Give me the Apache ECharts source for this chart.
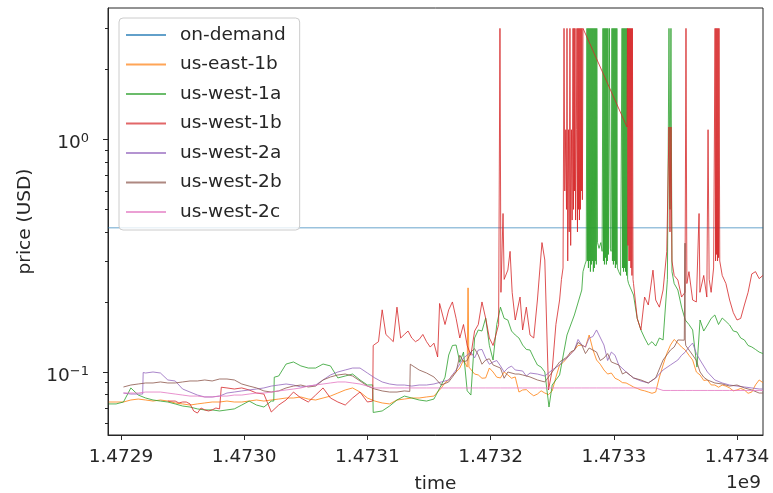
<!DOCTYPE html>
<html><head><meta charset="utf-8">
<script src="https://cdn.jsdelivr.net/npm/echarts@6/dist/echarts.min.js"></script>
<style>html,body{margin:0;padding:0;background:#fff}#c{width:773px;height:493px}</style>
</head><body><div id="c"></div>
<script>
// time base (epoch seconds) and sample times as kilo-second offsets from it
const T0 = 1472900000;
const X_MIN_KS = -10.55, X_MAX_KS = 521.1;
const timeKs = [-10,-4,2,8,14,20,26,32,38,44,50,56,62,68,74,80,86,92,98,104,110,116,122,128,134,140,146,152,158,164,170,176,182,188,194,200,206,212,218,224,230,236,242,248,254,260,266,272,278,284,290,296,302,308,314,320,326,332,338,344,350,356,362,368,374,380,386,392,398,404,410,416,422,428,434,440,446,452,458,464,470,476,482,488,494,500,506,512,518,521];

const seriesNames = ['on-demand','us-east-1b','us-west-1a','us-west-1b','us-west-2a','us-west-2b','us-west-2c'];
const onDemandPrice = 0.417;

const usEast1b = [0.0743,0.0743,0.0743,0.0758,0.0765,0.0758,0.0750,0.0758,0.0750,0.0736,
0.0729,0.0721,0.0729,0.0736,0.0743,0.0743,0.0750,0.0743,0.0743,0.0750,
0.0758,0.0750,0.0758,0.0765,0.0773,0.0773,0.0781,0.0765,0.0758,0.0773,
0.0788,0.0812,0.0837,0.0854,0.0820,0.0773,0.0750,0.0736,0.0729,0.0758,
0.0765,0.0773,0.0773,0.0781,0.0788,0.0854,0.0924,0.1000,0.1126,0.1040,
0.0971,0.0943,0.1000,0.0943,0.0971,0.0952,0.0837,0.0812,0.0804,0.0812,
0.0829,0.1072,0.1148,0.1243,0.1306,0.1442,0.1126,0.1020,0.0990,0.0924,
0.0897,0.0862,0.0837,0.0820,0.0820,0.1072,0.1306,0.1332,0.1243,0.1126,
0.0971,0.0924,0.0879,0.0879,0.0854,0.0837,0.0837,0.0820,0.0924,0.0900];
const usEast1bExtra = [[281.0,0.105],[281.7,0.230],[282.4,0.105],
[263,0.090],[269,0.097],[275,0.104],[287,0.098],[293,0.094],[299,0.104],[305,0.095],[311,0.100],[317,0.094],
[323,0.082],[329,0.084],[335,0.079],[341,0.083],[347,0.080],[353,0.095],[359,0.110],[365,0.120],[371,0.130],
[377,0.128],[383,0.125],[389,0.108],[395,0.098],[401,0.094],[407,0.090],[413,0.088],[419,0.085],[425,0.083],
[431,0.081],[437,0.095],[443,0.120],[449,0.138],[455,0.128],[461,0.118],[467,0.100],[473,0.092],[479,0.088],
[485,0.086],[491,0.087],[497,0.083],[503,0.085],[509,0.081],[515,0.088]];

const usWest1a = [0.0729,0.0729,0.0743,0.0854,0.0796,0.0773,0.0758,0.0750,0.0743,0.0729,
0.0714,0.0707,0.0694,0.0687,0.0687,0.0680,0.0687,0.0694,0.0721,0.0750,
0.0721,0.0707,0.0750,0.0961,0.1082,0.1104,0.1062,0.1040,0.1040,0.1082,
0.1062,0.0943,0.0961,0.0980,0.0924,0.0879,0.0673,0.0680,0.0714,0.0758,
0.0788,0.0773,0.0758,0.0750,0.0765,0.0879,0.1183,0.1306,0.1218,0.0796,
0.1516,0.1706,0.1126,0.1900,0.1673,0.1442,0.1306,0.1243,0.1072,0.1000,
0.0879,0.0971,0.1442,0.1758,0.2251,null,null,null,null,null,
null,0.2142,0.1516,0.1306,0.1293,0.1373,null,0.2251,0.1673,0.1516,
0.1673,0.1592,0.1758,0.1706,0.1592,0.1486,0.1373,0.1281,0.1218,0.1200];
const usWest1aExtra = [[124.0,0.0750],[124.4,0.0950],[204.3,0.0880],[204.7,0.0670],[347.4,0.0707],
[263,0.095],[269,0.130],[275,0.110],[281,0.083],[287,0.140],[293,0.150],[299,0.130],[305,0.160],[311,0.170],
[317,0.150],[323,0.140],[329,0.125],[335,0.115],[341,0.105],
[375.0,0.27],[376.6,0.29],[377.6,0.30],
[378.2,3.0],[378.6,0.30],[379.0,3.0],[379.4,0.28],[379.8,3.0],[380.2,0.30],[380.6,3.0],[381.0,0.27],[381.4,3.0],[381.8,0.29],
[382.2,3.0],[382.6,0.30],[383.0,3.0],[383.4,0.27],[383.8,3.0],[384.2,0.28],[384.6,3.0],[385.0,0.30],[385.4,3.0],[385.8,0.29],[386.2,3.0],[386.8,0.36],
[388.0,0.34],[389.5,0.36],[390.5,0.33],
[391.2,3.0],[391.6,0.30],[392.0,3.0],[392.4,0.29],[392.8,3.0],[393.2,0.31],[393.6,3.0],[394.0,0.29],[394.4,3.0],[394.8,0.30],[395.2,3.0],[395.6,0.32],
[396.4,3.0],[397.2,0.34],[397.8,0.33],
[398.5,3.0],[398.9,0.30],[399.3,3.0],[399.7,0.29],[400.1,3.0],[400.5,0.30],[400.9,3.0],[401.3,0.28],[401.7,3.0],[402.1,0.29],[402.5,3.0],[402.9,0.28],
[404.0,0.27],[405.5,0.26],
[406.7,3.0],[407.1,0.28],[407.5,3.0],[407.9,0.27],[408.3,3.0],[408.7,0.28],[409.1,3.0],[409.5,0.27],[409.9,3.0],[410.3,0.26],[410.7,3.0],[411.2,0.25],
[412.0,0.24],[413.5,0.23],
[419,0.170],[425,0.140],[431,0.135],[437,0.140],
[443.5,0.25],[444.8,3.0],[445.6,0.50],[446.4,3.0],[447.2,0.27],
[449,0.240],[455,0.190],[461,0.160],[467.5,0.105],[473,0.150],[479,0.170],[485,0.160],[491,0.165],[497,0.150],
[503,0.140],[509,0.130],[515,0.125]];

const usWest1b = [null,null,null,null,null,null,null,null,0.0750,0.0750,
0.0743,0.0729,0.0666,0.0687,0.0687,0.0694,0.0854,0.0845,0.0854,0.0837,
0.0812,0.0804,0.0673,0.0721,0.0758,0.0820,0.0773,0.0743,0.0796,0.0854,
0.0773,0.0743,0.0721,0.0773,0.0820,0.0743,0.1280,0.1850,0.1400,0.1900,
0.1450,0.1400,0.1380,0.1350,0.1330,0.1950,0.1850,0.1700,0.1600,0.1180,
0.1600,0.1700,0.1300,null,0.2743,0.1673,0.1516,0.1442,0.2039,0.3029,
0.1020,0.2039,null,null,null,null,null,null,null,null,
null,0.2400,0.1516,0.1941,0.2039,0.2251,null,0.2485,null,0.2039,
null,null,null,0.2600,0.2039,0.1673,0.1941,0.2640,0.2519,0.2600];
const usWest1bExtra = [[47,0.0736],[53,0.0743],[59,0.0680],[65,0.0700],[71,0.0680],[77,0.0700],
[81.0,0.0690],[81.4,0.0860],[204.3,0.0750],[204.7,0.1300],
[209,0.135],[215,0.145],[221,0.135],[227,0.140],[233,0.150],[239,0.135],[245,0.145],[251,0.128],
[257.0,0.1160],[258.6,0.1970],
[263,0.160],[269,0.200],[275,0.140],[281,0.130],[287,0.150],[293,0.200],[299,0.140],
[306.5,0.1600],[307.6,3.0],[308.4,0.2200],[310.1,0.4800],[311.0,0.2500],
[315.8,0.3300],[317.5,0.220],[323.9,0.2100],[329,0.190],[335,0.140],[341.7,0.3600],[347.0,0.0837],[353,0.160],
[357.5,0.25],[358.8,0.28],[359.6,3.0],[360.2,0.6],[361.0,1.1],[361.6,0.5],[362.0,3.0],[362.6,0.30],[363.2,1.1],[363.8,0.4],
[364.4,3.0],[365.0,0.35],[365.6,1.1],[366.2,0.45],[366.9,3.0],[367.3,0.5],[367.7,3.0],[368.1,0.6],[368.5,3.0],[369.0,0.45],
[369.6,1.1],[370.1,3.0],[370.5,0.4],[370.9,3.0],[371.3,0.5],[371.7,3.0],[372.1,0.45],[372.5,3.0],[372.9,0.5],[373.3,3.0],
[373.7,0.6],[374.1,3.0],[374.5,0.55],[375.0,3.0],
[410.7,1.13],[411.1,3.0],[411.5,0.35],[411.9,3.0],[412.3,0.30],[412.7,3.0],[413.1,0.30],[413.5,3.0],[413.9,0.28],[414.3,3.0],
[414.7,0.26],[415.1,3.0],[415.6,0.25],
[419,0.170],[425,0.210],[431.8,0.274],[437,0.190],
[443.0,0.33],[444.8,1.13],[445.6,0.40],[446.4,1.13],[447.2,0.30],
[449,0.260],[455,0.210],[457.8,0.22],[458.6,3.0],[459.3,0.24],[461,0.270],[467,0.200],
[469.2,0.48],[469.9,0.22],[473,0.260],
[475.5,0.21],[476.5,1.10],[477.4,0.25],[479,0.220],
[481.0,0.28],[482.2,3.0],[482.6,0.30],[483.0,3.0],[483.4,0.32],[483.8,3.0],[484.2,0.30],[484.6,3.0],[485.0,0.31],[485.4,3.0],[486.0,0.30],
[491,0.240],[497,0.180],[503,0.170],[509,0.220],[515,0.270]];

const usWest2a = [null,null,0.0812,0.0804,0.0804,0.0990,0.1000,0.0990,0.0924,0.0915,
0.0845,0.0820,0.0796,0.0781,0.0781,0.0788,0.0812,0.0820,0.0829,0.0837,
0.0845,0.0854,0.0870,0.0879,0.0888,0.0879,0.0862,0.0870,0.0879,0.0924,
0.0971,0.1000,0.1020,0.1040,0.1040,0.0990,0.0943,0.0906,0.0888,0.0879,
0.0879,0.0870,0.0879,0.0879,0.0888,0.0906,0.0924,0.1020,0.1148,0.1218,
0.1243,0.1148,0.1104,0.1062,0.1040,0.1020,0.1010,0.0990,0.0980,0.0961,
0.1020,0.1072,0.1148,0.1243,0.1306,0.1400,0.1516,0.1306,0.1218,0.1072,
0.1000,0.0943,0.0915,0.0897,0.0943,0.1020,0.1072,0.1126,0.1218,0.1332,
0.1126,0.1000,0.0924,0.0897,0.0879,0.0870,0.0862,0.0854,0.0845,0.0845];
const usWest2aExtra = [[17.6,0.0804],[18.0,0.0995],
[287,0.115],[293,0.125],[299,0.108],[305,0.112],[311,0.100],[317,0.106],[329,0.096],[359,0.112],[371,0.138],[377,0.128],
[383,0.142],[395,0.112],[401,0.118],[455,0.118],[461,0.128],[467,0.120]];

const usWest2b = [null,null,0.0862,0.0879,0.0888,0.0897,0.0897,0.0906,0.0897,0.0897,
0.0906,0.0915,0.0915,0.0924,0.0915,0.0933,0.0933,0.0924,0.0888,0.0870,
0.0854,0.0829,0.0820,0.0829,0.0854,0.0870,0.0879,0.0862,0.0870,0.0924,
0.0952,0.0971,0.0980,0.0961,0.0915,0.0870,0.0845,0.0829,0.0820,0.0820,
0.0829,0.1062,0.1020,0.0990,0.0952,0.0879,0.0906,0.1000,0.1104,0.1218,
0.1183,0.1126,0.1072,0.1040,0.1000,0.0980,0.0971,0.0952,0.0924,0.0906,
0.1000,0.1104,0.1160,0.1243,0.1306,0.1268,0.1218,0.1148,0.1104,0.1072,
0.1000,0.0943,0.0924,0.0897,0.0943,0.1126,0.1243,0.1373,0.1373,0.1183,
0.1000,0.0924,0.0897,0.0888,0.0870,0.0879,0.0854,0.0837,0.0812,0.0812];
const usWest2bExtra = [[234.4,0.0825],[234.8,0.1080],[457.2,0.1370],[457.8,0.3580],[458.4,0.1300],
[275,0.118],[281,0.112],[287,0.126],[293,0.108],[299,0.114],[311,0.094],[323,0.098],[365,0.122],[371,0.134],
[377,0.120],[389,0.112],[395,0.120],[407,0.098],[449,0.128],[467,0.112],[473,0.095]];

const usWest2c = [null,null,0.0812,0.0812,0.0812,0.0820,0.0820,0.0820,0.0812,0.0804,
0.0796,0.0788,0.0788,0.0781,0.0781,0.0788,0.0788,0.0796,0.0796,0.0804,
0.0812,0.0812,0.0820,0.0829,0.0837,0.0845,0.0854,0.0870,0.0879,0.0888,
0.0897,0.0906,0.0906,0.0897,0.0888,0.0870,0.0854,0.0854,0.0854,0.0854,
0.0854,0.0854,0.0854,0.0854,0.0854,0.0854,0.0854,0.0854,0.0854,0.0854,
0.0854,0.0854,0.0854,0.0854,0.0854,0.0854,0.0854,0.0854,0.0854,0.0854,
0.0854,0.0854,0.0854,0.0854,0.0854,0.0854,0.0854,0.0854,0.0854,0.0854,
0.0854,0.0854,0.0854,0.0854,0.0854,0.0833,0.0833,0.0833,0.0833,0.0833,
0.0833,0.0833,0.0833,0.0833,0.0833,0.0833,0.0833,0.0833,0.0833,0.0833];

const xTickValues = [1472900000,1473000000,1473100000,1473200000,1473300000,1473400000];
const yTickValues = [0.1, 1];
const yMinorTickValues = [0.06,0.07,0.08,0.09,0.2,0.3,0.4,0.5,0.6,0.7,0.8,0.9,2,3];
const colors = ['#1f77b4','#ff7f0e','#2ca02c','#d62728','#9467bd','#8c564b','#e377c2'];

function build(vals, extra) {
  const pts = [];
  timeKs.forEach((k, i) => { if (vals[i] != null) pts.push([k, vals[i]]); });
  (extra || []).forEach(p => pts.push(p));
  pts.sort((a, b) => a[0] - b[0]);
  return pts.map(p => [T0 + p[0] * 1000, p[1]]);
}

const seriesData = [
  [[T0 + X_MIN_KS * 1000, onDemandPrice], [T0 + X_MAX_KS * 1000, onDemandPrice]],
  build(usEast1b, usEast1bExtra),
  build(usWest1a, usWest1aExtra),
  build(usWest1b, usWest1bExtra),
  build(usWest2a, usWest2aExtra),
  build(usWest2b, usWest2bExtra),
  build(usWest2c, [])
];

const FONT = 'DejaVu Sans';
const FS = 18.5;
const chart = echarts.init(document.getElementById('c'), null, {renderer: 'canvas'});
chart.setOption({
  animation: false,
  backgroundColor: '#fff',
  textStyle: {fontFamily: FONT},
  grid: {left: 108, top: 8, right: 10, bottom: 58, show: true, borderColor: '#262626', borderWidth: 1,
    backgroundColor: 'transparent', containLabel: false, outerBoundsMode: 'none'},
  legend: {
    orient: 'vertical', left: 119, top: 18,
    padding: [7, 14, 8, 7], itemGap: 9.5, itemWidth: 40, itemHeight: 2,
    icon: 'rect',
    backgroundColor: 'rgba(255,255,255,0.8)', borderColor: '#cccccc', borderWidth: 1, borderRadius: 4,
    itemStyle: {opacity: 0.7},
    textStyle: {fontFamily: FONT, fontSize: FS, color: '#262626', lineHeight: 20, padding: [0, 0, 0, 9]},
    data: seriesNames
  },
  xAxis: {
    type: 'value',
    min: T0 + X_MIN_KS * 1000, max: T0 + X_MAX_KS * 1000,
    name: 'time', nameLocation: 'middle', nameGap: 40,
    nameTextStyle: {fontFamily: FONT, fontSize: FS, color: '#262626'},
    axisLine: {show: true, lineStyle: {color: '#262626', width: 1}},
    axisTick: {show: true, length: 5, customValues: xTickValues, lineStyle: {color: '#262626'}},
    axisLabel: {customValues: xTickValues, margin: 13, fontFamily: FONT, fontSize: FS, color: '#262626',
      formatter: v => (v / 1e9).toFixed(4)},
    splitLine: {show: false}
  },
  yAxis: [{
    type: 'log', logBase: 10, min: 0.0536, max: 3.67,
    name: 'price (USD)', nameLocation: 'middle', nameGap: 73, nameRotate: 90,
    nameTextStyle: {fontFamily: FONT, fontSize: FS, color: '#262626'},
    axisLine: {show: true, lineStyle: {color: '#262626', width: 1}},
    axisTick: {show: true, length: 5, customValues: yTickValues, lineStyle: {color: '#262626'}},
    axisLabel: {customValues: yTickValues, margin: 19, color: '#262626', padding: [8, 0, 0, 0],
      formatter: v => (Math.abs(v - 1) < 1e-9 ? '{b|10}{s|0}' : '{b|10}{s|\u22121}'),
      rich: {
        b: {fontFamily: FONT, fontSize: FS, color: '#262626', lineHeight: 22},
        s: {fontFamily: FONT, fontSize: 13, color: '#262626', verticalAlign: 'top', lineHeight: 13}
      }},
    splitLine: {show: false}
  }, {
    type: 'log', logBase: 10, min: 0.0536, max: 3.67, position: 'left',
    axisLine: {show: false},
    axisTick: {show: true, length: 3, customValues: yMinorTickValues, lineStyle: {color: '#262626'}},
    axisLabel: {show: false},
    splitLine: {show: false}
  }],
  graphic: [{
    type: 'text', right: 12, top: 474,
    style: {text: '1e9', font: FS + 'px "' + FONT + '"', fill: '#262626'}
  }],
  series: seriesNames.map((name, i) => ({
    name: name, type: 'line', data: seriesData[i], showSymbol: false, symbol: 'none',
    color: colors[i], clip: true,
    lineStyle: {width: i === 0 ? 1.5 : 1, opacity: i === 0 ? 0.45 : 0.8, color: colors[i]},
    itemStyle: {color: colors[i]},
    emphasis: {disabled: true}
  }))
});
</script></body></html>
